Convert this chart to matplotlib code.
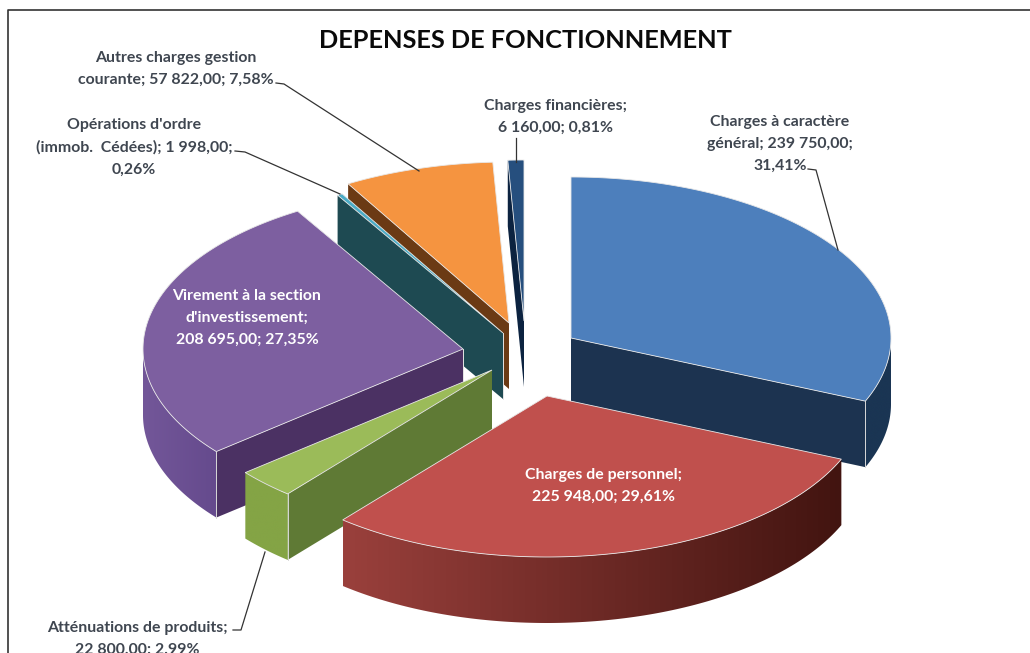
import numpy as np
import matplotlib
matplotlib.use("Agg")
import matplotlib.pyplot as plt
from matplotlib.patches import Polygon
from matplotlib.colors import to_rgb

plt.rcParams['font.family'] = ['Lato', 'DejaVu Sans']

# ---- data (in pie order, clockwise from 12 o'clock)
categories = ["Charges à caractère général", "Charges de personnel", "Atténuations de produits",
              "Virement à la section d'investissement", "Opérations d'ordre (immob. Cédées)",
              "Autres charges gestion courante", "Charges financières"]
values = [239750, 225948, 22800, 208695, 1998, 57822, 6160]
percents = ["31,41%", "29,61%", "2,99%", "27,35%", "0,26%", "7,58%", "0,81%"]
amounts = ["239 750,00", "225 948,00", "22 800,00", "208 695,00", "1 998,00", "57 822,00", "6 160,00"]
title = "DEPENSES DE FONCTIONNEMENT"

# ---- style / layout (pixel space of the reference)
W, H = 1030, 653
RX, RY, DEPTH = 320, 161, 66
apex = [(571, 338), (547, 396), (492, 370), (463, 349), (503, 333), (509, 323), (524, 321)]
top_col = ["#4d7fbc", "#c0504d", "#9bbb59", "#7d5fa0", "#4bacc6", "#f59440", "#264f7e"]
face_col = ["#1c3350", "#4a1a16", "#5f7a35", "#4b3163", "#1e4a52", "#6b3a14", "#0c2340"]
wall_left = ["#1a3553", "#9a403c", "#84a445", "#735799", "#1e4a52", "#6b3a14", "#0c2340"]
wall_right = ["#1a3553", "#421410", "#84a445", "#654a8d", "#1e4a52", "#6b3a14", "#0c2340"]
apex_edge = [False, False, False, True, True, False, False]
draw_order = [6, 5, 4, 3, 0, 2, 1]

fig = plt.figure(figsize=(W / 100, H / 100), dpi=100, facecolor="white")
ax = fig.add_axes([0, 0, 1, 1])
ax.axis("off")

# frame of the original picture
ax.plot([W, 7.5, 7.5], [9.5, 9.5, H], color="#333333", lw=1.2, zorder=1)

shares = np.array(values, dtype=float) / np.sum(values)
edges = np.concatenate([[0.0], np.cumsum(shares)]) * 360.0


def rim(c, ang):
    r = np.radians(ang)
    return np.column_stack([c[0] + RX * np.sin(r), c[1] - RY * np.cos(r)])


z = 3
for i in draw_order:
    c = apex[i]
    a0, a1 = edges[i], edges[i + 1]
    lo, hi = max(a0, 90), min(a1, 270)
    has_wall = hi > lo
    # radial cut faces facing the viewer
    for th, sgn in ((a0, -90), (a1, 90)):
        if -np.cos(np.radians(th + sgn)) > 1e-6:
            p = rim(c, [th])[0]
            ax.add_patch(Polygon([c, p, (p[0], p[1] + DEPTH), (c[0], c[1] + DEPTH)], closed=True,
                                 facecolor=face_col[i], edgecolor="none", zorder=z))
            if has_wall:
                ax.plot([p[0], p[0]], [p[1], p[1] + DEPTH], color="#d8d8d8", lw=0.7, zorder=z + 2)
            if apex_edge[i]:
                ax.plot([c[0], c[0]], [c[1], c[1] + DEPTH], color="#e4e4e4", lw=0.7, zorder=z + 2)
    # outer wall: visible only on the lower half of the rim, shaded left to right
    if has_wall:
        pts = rim(c, np.linspace(lo, hi, 120))
        outline = np.vstack([pts, pts[::-1] + (0, DEPTH)])
        cL, cR = np.array(to_rgb(wall_left[i])), np.array(to_rgb(wall_right[i]))
        t = np.linspace(0, 1, 256)[:, None]
        grad = (cL + (cR - cL) * t)[None, :, :]
        xmin, xmax = outline[:, 0].min(), outline[:, 0].max()
        ymin, ymax = outline[:, 1].min(), outline[:, 1].max()
        im = ax.imshow(grad, extent=(xmin, xmax, ymax, ymin), aspect="auto", interpolation="bilinear", zorder=z)
        im.set_clip_path(Polygon(outline, closed=True, transform=ax.transData))
    # top face
    top = np.vstack([[c], rim(c, np.linspace(a0, a1, 120))])
    ax.add_patch(Polygon(top, closed=True, facecolor=top_col[i], edgecolor="#e8e8e8", lw=0.6, zorder=z + 1))
    z += 3

ax.set_xlim(0, W)
ax.set_ylim(H, 0)

TXT = "#3f4650"
fs = 11.4
lab = dict(family=['Lato', 'DejaVu Sans'], fontweight="bold", fontsize=fs, ha="center", va="center",
           linespacing=1.72, zorder=60)

ax.text(525, 40, title, family=['Lato', 'DejaVu Sans'], fontweight="bold", fontsize=18.3, ha="center", va="center",
        color="#0a0a0a", zorder=60)

ax.text(780, 144, f"Charges à caractère\ngénéral; {amounts[0]};\n{percents[0]}", color=TXT, **lab)
ax.text(603, 486, f"{categories[1]};\n{amounts[1]}; {percents[1]}", color="white", **lab)
ax.text(137, 639, f"Atténuations de produits;\n{amounts[2]}; {percents[2]}", color=TXT, **lab)
ax.text(247, 318, f"Virement à la section\nd'investissement;\n{amounts[3]}; {percents[3]}", color="white", **lab)
ax.text(134, 147, f"Opérations d'ordre\n(immob.  Cédées); {amounts[4]};\n{percents[4]}", color=TXT, **lab)
ax.text(176, 69, f"Autres charges gestion\ncourante; {amounts[5]}; {percents[5]}", color=TXT, **lab)
ax.text(555, 117, f"{categories[6]};\n{amounts[6]}; {percents[6]}", color=TXT, **lab)

# leader lines
leaders = [([808, 816, 838], [169, 170, 250]),
           ([233, 241, 265], [630, 630, 552]),
           ([235, 245, 340], [151, 152, 194]),
           ([276, 284, 419], [83, 84, 171]),
           ([516, 516], [138, 162])]
for xs, ys in leaders:
    ax.plot(xs, ys, color="#333333", lw=0.9, zorder=55)

fig.savefig("out.png", dpi=100)
